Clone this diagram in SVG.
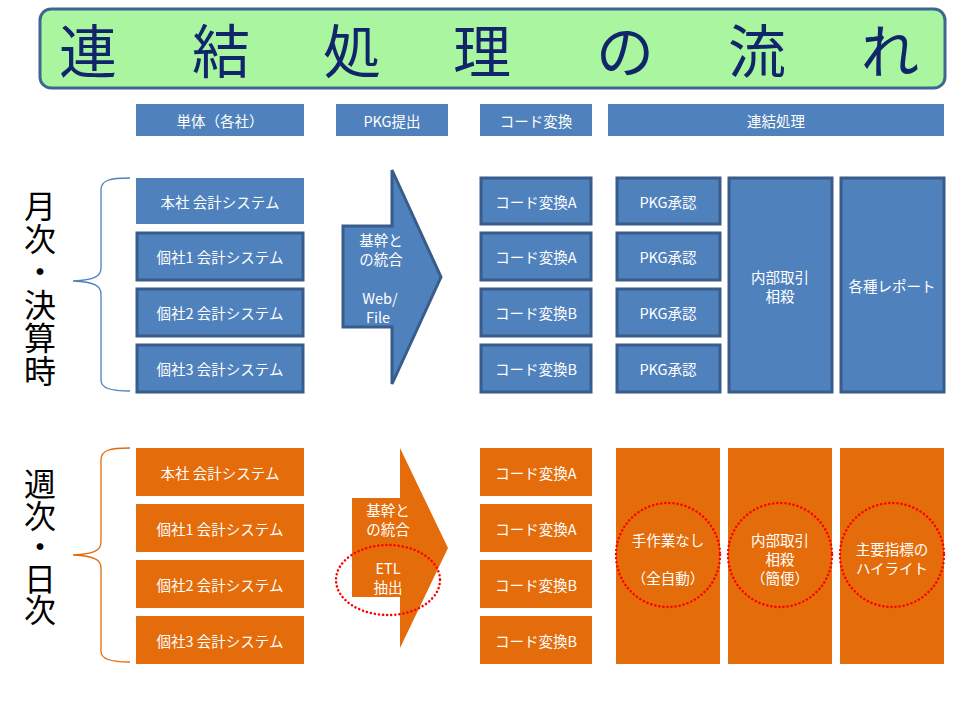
<svg xmlns="http://www.w3.org/2000/svg" width="960" height="720" viewBox="0 0 960 720">
<style>
text{font-family:"Noto Sans CJK JP","Noto Sans",sans-serif;}
.t{fill:#ffffff;font-size:14.5px;text-anchor:middle;dominant-baseline:central;}
.b{fill:#4f81bd;}
.bs{fill:#4f81bd;stroke:#385d8a;stroke-width:3;}
.o{fill:#e46c0a;}
.red{fill:none;stroke:#ff0000;stroke-width:2.5;stroke-dasharray:0.1 4;stroke-linecap:round;}
.side{font-size:32px;fill:#000;writing-mode:vertical-rl;}
.ttl{font-size:58px;fill:#10256a;text-anchor:middle;dominant-baseline:central;}
</style>
<rect width="960" height="720" fill="#ffffff"/>
<g id="title">
<rect x="40" y="9" width="905" height="79" rx="11" fill="#aaf5a0" stroke="#3f6690" stroke-width="3"/>
<text class="ttl" x="88" y="48">連</text>
<text class="ttl" x="221" y="48">結</text>
<text class="ttl" x="352" y="48">処</text>
<text class="ttl" x="482" y="48">理</text>
<text class="ttl" x="625" y="48">の</text>
<text class="ttl" x="757" y="48">流</text>
<text class="ttl" x="890" y="48">れ</text>
</g>
<g id="headers">
<rect class="b" x="136" y="104" width="168" height="32"/><text class="t" x="220" y="120">単体（各社）</text>
<rect class="b" x="336" y="104" width="112" height="32"/><text class="t" x="392" y="120">PKG提出</text>
<rect class="b" x="480" y="104" width="112" height="32"/><text class="t" x="536" y="120">コード変換</text>
<rect class="b" x="608" y="104" width="336" height="32"/><text class="t" x="776" y="120">連結処理</text>
</g>
<g id="label-monthly">
<text class="side" x="40" y="190" letter-spacing="1">月次・決算時</text>
</g>
<g id="label-weekly">
<text class="side" x="40" y="468" letter-spacing="-0.5">週次・日次</text>
</g>
<g id="connectors" fill="none" stroke-width="1.3">
<path stroke="#4f81bd" d="M130,178 C110,178 101,180 101,190 L101,268 C101,276 95,280 73,281 C95,282 101,286 101,294 L101,380 C101,388 110,391 130,391"/>
<path stroke="#e46c0a" d="M130,448 C110,448 101,450 101,460 L101,542 C101,550 95,554 73,555 C95,556 101,560 101,568 L101,651 C101,659 110,662 130,662"/>
</g>
<g id="monthly-units">
<g id="m-honsha"><rect class="b" x="136" y="178" width="168" height="46"/><text class="t" x="220" y="201">本社 会計システム</text></g>
<g id="m-kosha1"><rect class="bs" x="137" y="233" width="166" height="47"/><text class="t" x="220" y="256">個社1 会計システム</text></g>
<g id="m-kosha2"><rect class="bs" x="137" y="289" width="166" height="47"/><text class="t" x="220" y="312">個社2 会計システム</text></g>
<g id="m-kosha3"><rect class="bs" x="137" y="345" width="166" height="47"/><text class="t" x="220" y="368">個社3 会計システム</text></g>
</g>
<g id="m-arrow">
<path class="bs" d="M343,226 L392,226 L392,170 L441,277 L392,384 L392,327 L343,327 Z"/>
<text class="t" x="381" y="239">基幹と</text>
<text class="t" x="381" y="258">の統合</text>
<text class="t" x="380" y="297">Web/</text>
<text class="t" x="378" y="316">File</text>
</g>
<g id="monthly-code">
<g id="m-codeA1"><rect class="bs" x="481" y="178" width="110" height="46"/><text class="t" x="536" y="201">コード変換A</text></g>
<g id="m-codeA2"><rect class="bs" x="481" y="233" width="110" height="47"/><text class="t" x="536" y="256">コード変換A</text></g>
<g id="m-codeB1"><rect class="bs" x="481" y="289" width="110" height="47"/><text class="t" x="536" y="312">コード変換B</text></g>
<g id="m-codeB2"><rect class="bs" x="481" y="345" width="110" height="47"/><text class="t" x="536" y="368">コード変換B</text></g>
</g>
<g id="monthly-consol">
<g id="m-pkg1"><rect class="bs" x="617" y="178" width="103" height="46"/><text class="t" x="668" y="201">PKG承認</text></g>
<g id="m-pkg2"><rect class="bs" x="617" y="233" width="103" height="47"/><text class="t" x="668" y="256">PKG承認</text></g>
<g id="m-pkg3"><rect class="bs" x="617" y="289" width="103" height="47"/><text class="t" x="668" y="312">PKG承認</text></g>
<g id="m-pkg4"><rect class="bs" x="617" y="345" width="103" height="47"/><text class="t" x="668" y="368">PKG承認</text></g>
<g id="m-internal"><rect class="bs" x="729" y="178" width="103" height="214"/><text class="t" x="780" y="276">内部取引</text><text class="t" x="780" y="295">相殺</text></g>
<g id="m-report"><rect class="bs" x="841" y="178" width="103" height="214"/><text class="t" x="892" y="285">各種レポート</text></g>
</g>
<g id="weekly-units">
<g id="w-honsha"><rect class="o" x="136" y="448" width="168" height="48"/><text class="t" x="220" y="472">本社 会計システム</text></g>
<g id="w-kosha1"><rect class="o" x="136" y="504" width="168" height="48"/><text class="t" x="220" y="528">個社1 会計システム</text></g>
<g id="w-kosha2"><rect class="o" x="136" y="560" width="168" height="48"/><text class="t" x="220" y="584">個社2 会計システム</text></g>
<g id="w-kosha3"><rect class="o" x="136" y="616" width="168" height="48"/><text class="t" x="220" y="640">個社3 会計システム</text></g>
</g>
<g id="w-arrow">
<path class="o" d="M352,498 L400,498 L400,448 L448,548 L400,648 L400,597 L352,597 Z"/>
<text class="t" x="388" y="509">基幹と</text>
<text class="t" x="388" y="528">の統合</text>
<text class="t" x="388" y="567">ETL</text>
<text class="t" x="388" y="586">抽出</text>
<ellipse class="red" cx="388" cy="580" rx="52" ry="35"/>
</g>
<g id="weekly-code">
<g id="w-codeA1"><rect class="o" x="480" y="448" width="112" height="48"/><text class="t" x="536" y="472">コード変換A</text></g>
<g id="w-codeA2"><rect class="o" x="480" y="504" width="112" height="48"/><text class="t" x="536" y="528">コード変換A</text></g>
<g id="w-codeB1"><rect class="o" x="480" y="560" width="112" height="48"/><text class="t" x="536" y="584">コード変換B</text></g>
<g id="w-codeB2"><rect class="o" x="480" y="616" width="112" height="48"/><text class="t" x="536" y="640">コード変換B</text></g>
</g>
<g id="weekly-consol">
<g id="w-manual"><rect class="o" x="616" y="448" width="104" height="216"/><text class="t" x="668" y="539">手作業なし</text><text class="t" x="668" y="577">（全自動）</text><circle class="red" cx="668" cy="555" r="52"/></g>
<g id="w-internal"><rect class="o" x="728" y="448" width="104" height="216"/><text class="t" x="780" y="539">内部取引</text><text class="t" x="780" y="558">相殺</text><text class="t" x="780" y="577">（簡便）</text><circle class="red" cx="780" cy="555" r="52"/></g>
<g id="w-kpi"><rect class="o" x="840" y="448" width="104" height="216"/><text class="t" x="892" y="548">主要指標の</text><text class="t" x="892" y="567">ハイライト</text><circle class="red" cx="892" cy="555" r="52"/></g>
</g>
</svg>
